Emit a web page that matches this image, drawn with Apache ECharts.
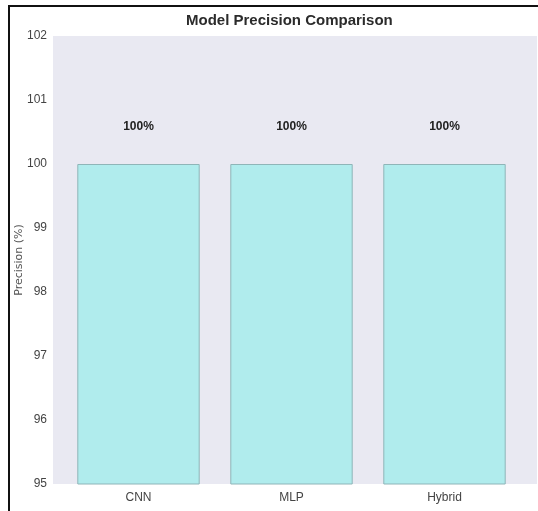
<!DOCTYPE html>
<html><head><meta charset="utf-8">
<script src="https://cdn.jsdelivr.net/npm/echarts@6/dist/echarts.min.js"></script>
<style>html,body{margin:0;padding:0;background:#fff}#c{width:538px;height:511px}</style>
</head><body><div id="c"></div>
<script>
const categories = ['CNN', 'MLP', 'Hybrid'];
const precision = [100, 100, 100];
const yTicks = [95, 96, 97, 98, 99, 100, 101, 102];
const title = 'Model Precision Comparison';
const yName = 'Precision (%)';

const chart = echarts.init(document.getElementById('c'));
const font = '"Liberation Sans Narrow", "Liberation Sans", Arial, sans-serif';
chart.setOption({
  animation: false,
  title: { text: title, left: 181, top: 8,
    textStyle: { fontFamily: '"Liberation Sans", Arial, sans-serif', fontSize: 15, fontWeight: 'bold', color: '#2b2b2b' } },
  graphic: [
    { type: 'rect', shape: { x: 8, y: 5, width: 540, height: 2 }, style: { fill: '#111' } },
    { type: 'rect', shape: { x: 8, y: 5, width: 2, height: 520 }, style: { fill: '#111' } }
  ],
  grid: [
    { left: 53, right: 1, top: 36, bottom: 27, show: true, backgroundColor: '#e9e9f2', borderWidth: 0, outerBoundsMode: 'none' },
    { left: 62, width: 459, top: 36, bottom: 27, outerBoundsMode: 'none' }
  ],
  xAxis: [
    { gridIndex: 0, type: 'value', show: false, min: 0, max: 1 },
    { gridIndex: 1, type: 'category', data: categories,
      axisLine: { show: false }, axisTick: { show: false },
      axisLabel: { fontFamily: font, fontSize: 12, color: '#444', margin: 8 } }
  ],
  yAxis: [
    { gridIndex: 0, type: 'value', show: false, min: 0, max: 1 },
    { gridIndex: 1, type: 'value', min: yTicks[0], max: yTicks[yTicks.length - 1], interval: 1,
      name: yName, nameLocation: 'middle', nameGap: 37, nameMoveOverlap: false,
      nameTextStyle: { fontFamily: '"DejaVu Sans", sans-serif', fontSize: 11, color: '#555' },
      axisLine: { show: false }, axisTick: { show: false }, splitLine: { show: false },
      axisLabel: { fontFamily: font, fontSize: 12, color: '#444', margin: 15 } }
  ],
  series: [{
    type: 'bar', xAxisIndex: 1, yAxisIndex: 1, data: precision, barWidth: '80%',
    itemStyle: { color: '#b0eced', borderColor: '#8fb5b8', borderWidth: 1 },
    label: { show: true, position: 'top', distance: 31, formatter: p => p.value + '%',
      fontFamily: font, fontSize: 12, fontWeight: 'bold', color: '#222' }
  }]
});
</script></body></html>
